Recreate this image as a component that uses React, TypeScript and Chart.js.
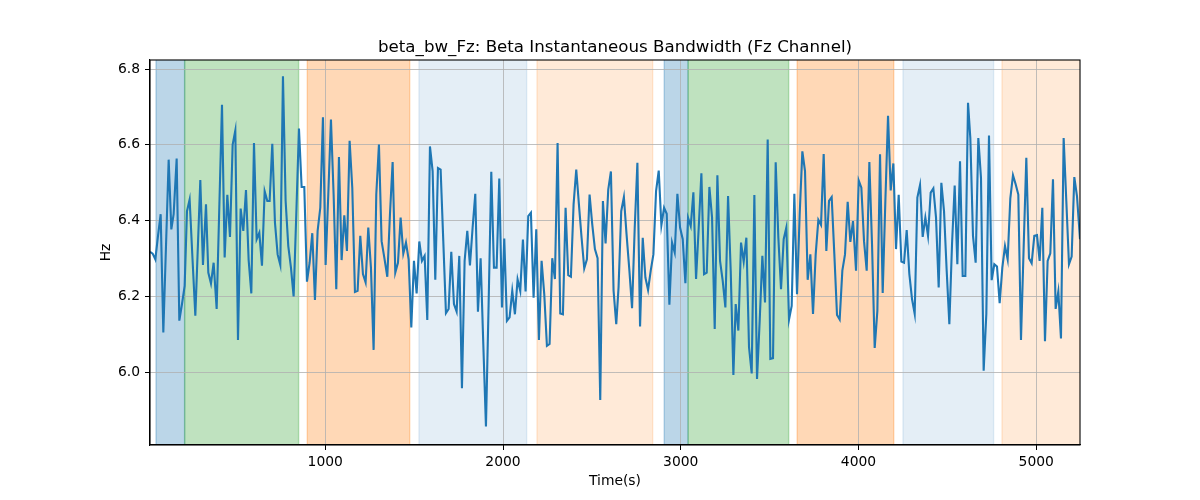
import React, { useEffect, useRef } from "react";
import { Chart, registerables } from "chart.js";

Chart.register(...registerables);

const TITLE = "beta_bw_Fz: Beta Instantaneous Bandwidth (Fz Channel)";
const X_LABEL = "Time(s)";
const Y_LABEL = "Hz";

const times = [
  14, 29, 44, 59, 74, 89, 119, 134, 147, 164, 179, 194, 209, 222, 237, 253, 269, 297, 312, 329,
  342, 357, 372, 389, 419, 434, 449, 464, 479, 494, 509, 524, 539, 554, 569, 584, 599, 614, 629, 644,
  659, 674, 687, 702, 717, 732, 747, 762, 777, 792, 807, 822, 837, 852, 867, 882, 897, 912, 927, 942,
  957, 972, 987, 1002, 1017, 1032, 1047, 1062, 1077, 1092, 1107, 1122, 1137, 1152, 1167, 1182, 1197, 1212, 1227, 1242,
  1257, 1272, 1287, 1302, 1317, 1332, 1349, 1364, 1379, 1394, 1409, 1424, 1439, 1454, 1469, 1484, 1499, 1514, 1529, 1544,
  1559, 1574, 1589, 1604, 1619, 1634, 1649, 1664, 1679, 1694, 1709, 1724, 1739, 1754, 1769, 1784, 1799, 1814, 1829, 1844,
  1859, 1874, 1889, 1904, 1919, 1934, 1949, 1964, 1979, 1994, 2007, 2022, 2037, 2052, 2067, 2082, 2097, 2112, 2127, 2142,
  2157, 2172, 2187, 2202, 2217, 2232, 2247, 2262, 2277, 2292, 2307, 2322, 2337, 2352, 2367, 2382, 2397, 2412, 2427, 2442,
  2457, 2472, 2487, 2502, 2517, 2532, 2547, 2562, 2577, 2592, 2607, 2622, 2637, 2650, 2665, 2680, 2695, 2711, 2726, 2741,
  2756, 2771, 2786, 2801, 2816, 2831, 2846, 2861, 2876, 2891, 2906, 2921, 2936, 2951, 2966, 2981, 2996, 3011, 3026, 3041,
  3056, 3071, 3086, 3101, 3116, 3131, 3146, 3161, 3176, 3191, 3206, 3221, 3236, 3251, 3266, 3281, 3296, 3309, 3324, 3339,
  3354, 3369, 3384, 3399, 3414, 3429, 3444, 3459, 3474, 3489, 3504, 3519, 3534, 3549, 3564, 3579, 3594, 3609, 3624, 3639,
  3654, 3669, 3684, 3699, 3714, 3729, 3744, 3759, 3774, 3789, 3804, 3819, 3834, 3849, 3864, 3879, 3894, 3909, 3924, 3939,
  3954, 3969, 3986, 4001, 4016, 4031, 4046, 4061, 4076, 4091, 4106, 4121, 4136, 4151, 4166, 4181, 4196, 4211, 4226, 4241,
  4256, 4271, 4286, 4301, 4316, 4331, 4346, 4361, 4376, 4391, 4406, 4421, 4436, 4451, 4466, 4481, 4496, 4511, 4526, 4541,
  4556, 4571, 4586, 4601, 4616, 4629, 4644, 4659, 4674, 4689, 4704, 4719, 4734, 4749, 4764, 4779, 4794, 4809, 4824, 4839,
  4854, 4869, 4884, 4899, 4914, 4929, 4944, 4959, 4974, 4989, 5004, 5019, 5034, 5049, 5064, 5079, 5094, 5109, 5124, 5139,
  5154, 5169, 5184, 5199, 5214, 5229, 5246,
];

const values = [
  6.318, 6.313, 6.298, 6.36, 6.417, 6.105, 6.561, 6.377, 6.417, 6.564, 6.136, 6.18, 6.228, 6.425, 6.456, 6.3, 6.149, 6.507, 6.283, 6.443,
  6.263, 6.234, 6.289, 6.167, 6.706, 6.303, 6.468, 6.357, 6.601, 6.638, 6.085, 6.432, 6.373, 6.481, 6.296, 6.208, 6.605, 6.351, 6.368, 6.281,
  6.478, 6.452, 6.452, 6.603, 6.395, 6.311, 6.283, 6.781, 6.452, 6.333, 6.276, 6.2, 6.417, 6.643, 6.489, 6.489, 6.239, 6.289, 6.367, 6.191,
  6.373, 6.434, 6.673, 6.283, 6.469, 6.667, 6.469, 6.219, 6.568, 6.296, 6.414, 6.32, 6.611, 6.487, 6.212, 6.215, 6.36, 6.259, 6.237, 6.382,
  6.276, 6.059, 6.469, 6.601, 6.346, 6.303, 6.252, 6.417, 6.555, 6.263, 6.289, 6.408, 6.313, 6.342, 6.298, 6.118, 6.294, 6.208, 6.345, 6.294,
  6.307, 6.138, 6.596, 6.531, 6.244, 6.539, 6.535, 6.346, 6.156, 6.167, 6.318, 6.18, 6.16, 6.307, 5.958, 6.294, 6.373, 6.282, 6.382, 6.471,
  6.16, 6.301, 6.075, 5.857, 6.18, 6.529, 6.276, 6.276, 6.511, 6.171, 6.353, 6.136, 6.145, 6.215, 6.153, 6.245, 6.215, 6.35, 6.213, 6.412,
  6.421, 6.197, 6.377, 6.085, 6.294, 6.206, 6.07, 6.075, 6.301, 6.246, 6.605, 6.155, 6.153, 6.434, 6.256, 6.252, 6.443, 6.535, 6.443, 6.355,
  6.274, 6.298, 6.469, 6.39, 6.325, 6.301, 5.927, 6.452, 6.34, 6.482, 6.53, 6.215, 6.127, 6.224, 6.425, 6.462, 6.364, 6.268, 6.169, 6.382,
  6.553, 6.121, 6.355, 6.25, 6.217, 6.268, 6.311, 6.478, 6.532, 6.388, 6.434, 6.418, 6.178, 6.342, 6.316, 6.471, 6.382, 6.351, 6.235, 6.408,
  6.386, 6.475, 6.246, 6.382, 6.525, 6.259, 6.263, 6.489, 6.408, 6.114, 6.52, 6.294, 6.241, 6.171, 6.465, 6.268, 5.993, 6.18, 6.11, 6.342,
  6.292, 6.355, 6.066, 5.997, 6.468, 5.982, 6.136, 6.307, 6.184, 6.614, 6.035, 6.037, 6.554, 6.355, 6.219, 6.351, 6.382, 6.139, 6.175, 6.471,
  6.206, 6.417, 6.583, 6.531, 6.244, 6.311, 6.154, 6.311, 6.402, 6.389, 6.576, 6.32, 6.452, 6.462, 6.311, 6.151, 6.139, 6.268, 6.311, 6.45,
  6.344, 6.399, 6.268, 6.506, 6.487, 6.346, 6.268, 6.555, 6.338, 6.064, 6.162, 6.575, 6.209, 6.452, 6.677, 6.48, 6.551, 6.325, 6.468, 6.292,
  6.289, 6.375, 6.259, 6.193, 6.154, 6.461, 6.494, 6.357, 6.408, 6.36, 6.474, 6.485, 6.408, 6.224, 6.5, 6.425, 6.268, 6.127, 6.338, 6.493,
  6.285, 6.557, 6.254, 6.254, 6.711, 6.618, 6.36, 6.289, 6.618, 6.513, 6.004, 6.154, 6.625, 6.243, 6.285, 6.279, 6.182, 6.276, 6.333, 6.298,
  6.459, 6.52, 6.496, 6.469, 6.085, 6.329, 6.566, 6.301, 6.288, 6.36, 6.362, 6.294, 6.434, 6.082, 6.294, 6.314, 6.509, 6.167, 6.213, 6.089,
  6.618, 6.452, 6.285, 6.305, 6.515, 6.465, 6.351,
];

const spanStarts = [48, 209, 899, 1527, 2191, 2907, 3041, 3655, 4250, 4807];
const spanEnds = [209, 850, 1475, 2133, 2842, 3041, 3607, 4198, 4760, 5300];
const spanKinds = [
  "blueStrong", "green", "orangeStrong", "blueLight", "orangeLight",
  "blueStrong", "green", "orangeStrong", "blueLight", "orangeLight",
];

const xTicks = [1000, 2000, 3000, 4000, 5000];
const yTicks = [6.0, 6.2, 6.4, 6.6, 6.8];
const X_MIN = 14;
const X_MAX = 5246;
const Y_MIN = 5.808;
const Y_MAX = 6.824;

const SPAN_COLORS: Record<string, string> = {
  blueStrong: "rgba(31,119,180,0.3)",
  green: "rgba(44,160,44,0.3)",
  orangeStrong: "rgba(255,127,14,0.3)",
  blueLight: "rgba(31,119,180,0.12)",
  orangeLight: "rgba(255,127,14,0.16)",
};

const FONT = "'DejaVu Sans', sans-serif";

const spanPlugin = {
  id: "spans",
  beforeDraw(chart: any) {
    const { ctx, chartArea, scales } = chart;
    const xs = scales.x;
    ctx.save();
    ctx.beginPath();
    ctx.rect(chartArea.left, chartArea.top, chartArea.right - chartArea.left, chartArea.bottom - chartArea.top);
    ctx.clip();
    for (let i = 0; i < spanStarts.length; i++) {
      const x1 = xs.getPixelForValue(spanStarts[i]);
      const x2 = xs.getPixelForValue(spanEnds[i]);
      const c = SPAN_COLORS[spanKinds[i]];
      ctx.fillStyle = c;
      ctx.fillRect(x1, chartArea.top, x2 - x1, chartArea.bottom - chartArea.top);
      ctx.strokeStyle = c;
      ctx.lineWidth = 1.4;
      ctx.beginPath();
      ctx.moveTo(x1, chartArea.top);
      ctx.lineTo(x1, chartArea.bottom);
      ctx.moveTo(x2, chartArea.top);
      ctx.lineTo(x2, chartArea.bottom);
      ctx.stroke();
    }
    ctx.restore();
  },
  afterDraw(chart: any) {
    const { ctx, chartArea } = chart;
    ctx.save();
    ctx.strokeStyle = "#000";
    ctx.lineWidth = 1.1;
    ctx.strokeRect(chartArea.left, chartArea.top, chartArea.right - chartArea.left, chartArea.bottom - chartArea.top);
    ctx.fillStyle = "#000";
    ctx.textAlign = "center";
    ctx.textBaseline = "alphabetic";
    ctx.font = `16.67px ${FONT}`;
    const cx = (chartArea.left + chartArea.right) / 2;
    ctx.fillText(TITLE, cx, chartArea.top - 8);
    ctx.font = `13.89px ${FONT}`;
    ctx.textBaseline = "middle";
    ctx.fillText(X_LABEL, cx, 481);
    ctx.translate(106, (chartArea.top + chartArea.bottom) / 2);
    ctx.rotate(-Math.PI / 2);
    ctx.fillText(Y_LABEL, 0, 0);
    ctx.restore();
  },
};

export default function App() {
  const ref = useRef<HTMLCanvasElement | null>(null);
  useEffect(() => {
    if (!ref.current) return;
    const points = times.map((t, i) => ({ x: t, y: values[i] }));
    const chart = new Chart(ref.current, {
      type: "line",
      data: {
        datasets: [
          {
            data: points,
            borderColor: "#1f77b4",
            borderWidth: 2.1,
            pointRadius: 0,
            tension: 0,
            fill: false,
          },
        ],
      },
      options: {
        animation: false,
        responsive: false,
        devicePixelRatio: 1,
        layout: { padding: { left: 0, right: 120, top: 60, bottom: 0 } },
        plugins: { legend: { display: false }, tooltip: { enabled: false }, title: { display: false } },
        scales: {
          x: {
            type: "linear",
            min: X_MIN,
            max: X_MAX,
            afterBuildTicks: (s: any) => {
              s.ticks = xTicks.map((v) => ({ value: v }));
            },
            afterFit: (s: any) => {
              s.height = 55;
            },
            grid: { color: "#b0b0b0", lineWidth: 0.8, drawTicks: true, tickLength: 5, tickColor: "#000", tickWidth: 1 },
            border: { display: true, color: "#000", width: 1.1 },
            ticks: {
              color: "#000",
              padding: 4,
              maxRotation: 0,
              font: { family: FONT, size: 13.89 },
              callback: (v: any) => String(v),
            },
          },
          y: {
            type: "linear",
            min: Y_MIN,
            max: Y_MAX,
            afterBuildTicks: (s: any) => {
              s.ticks = yTicks.map((v) => ({ value: v }));
            },
            afterFit: (s: any) => {
              s.width = 150;
            },
            grid: { color: "#b0b0b0", lineWidth: 0.8, drawTicks: true, tickLength: 5, tickColor: "#000", tickWidth: 1 },
            border: { display: true, color: "#000", width: 1.1 },
            ticks: {
              color: "#000",
              padding: 5,
              font: { family: FONT, size: 13.89 },
              callback: (v: any) => Number(v).toFixed(1),
            },
          },
        },
      },
      plugins: [spanPlugin],
    });
    return () => chart.destroy();
  }, []);
  return (
    <div style={{ position: "absolute", left: 0, top: 0, width: 1200, height: 500, background: "#fff" }}>
      <canvas ref={ref} width={1200} height={500} style={{ width: 1200, height: 500 }} />
    </div>
  );
}
